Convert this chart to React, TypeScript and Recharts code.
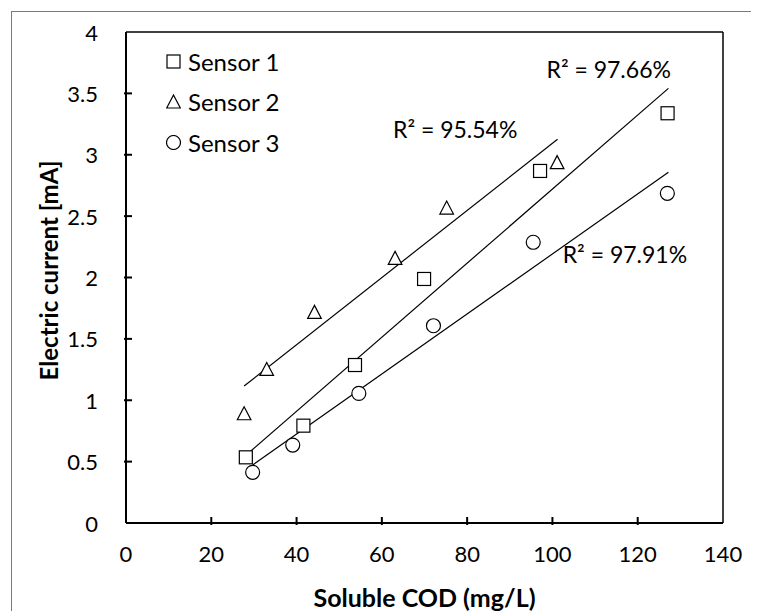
import {
  ReferenceDot,
  ReferenceLine,
  Scatter,
  ScatterChart,
  XAxis,
  YAxis,
} from "recharts";

// measured points, soluble COD (mg/L) vs current (mA)
const sensor1 = [
  { x: 28.1, y: 0.535 },
  { x: 41.6, y: 0.793 },
  { x: 53.7, y: 1.287 },
  { x: 69.9, y: 1.988 },
  { x: 97.1, y: 2.868 },
  { x: 127.0, y: 3.338 },
];
const sensor2 = [
  { x: 27.7, y: 0.894 },
  { x: 33.0, y: 1.255 },
  { x: 44.2, y: 1.72 },
  { x: 63.1, y: 2.16 },
  { x: 75.2, y: 2.57 },
  { x: 101.1, y: 2.94 },
];
const sensor3 = [
  { x: 29.7, y: 0.413 },
  { x: 39.1, y: 0.635 },
  { x: 54.6, y: 1.056 },
  { x: 72.1, y: 1.607 },
  { x: 95.5, y: 2.287 },
  { x: 126.95, y: 2.686 },
];

// linear trend endpoints as drawn
const trend1 = [
  { x: 28, y: 0.548 },
  { x: 127.2, y: 3.541 },
];
const trend2 = [
  { x: 27.7, y: 1.116 },
  { x: 101.2, y: 3.126 },
];
const trend3 = [
  { x: 29.7, y: 0.4725 },
  { x: 127.2, y: 2.857 },
];

const r2Labels = ["R² = 97.66%", "R² = 95.54%", "R² = 97.91%"];
const r2Anchors = [
  { x: 113.2, y: 3.69 },
  { x: 77.2, y: 3.2 },
  { x: 117.0, y: 2.183 },
];

const xTicks = [0, 20, 40, 60, 80, 100, 120, 140];
const yTicks = [0, 0.5, 1, 1.5, 2, 2.5, 3, 3.5, 4];
const seriesNames = ["Sensor 1", "Sensor 2", "Sensor 3"];

const FONT = "Lato, 'Open Sans', sans-serif";

type MarkProps = { cx?: number; cy?: number };

const Square = ({ cx = 0, cy = 0 }: MarkProps) => (
  <rect x={cx - 6.5} y={cy - 6.5} width={13} height={13} fill="#fff" stroke="#000" strokeWidth={1.2} />
);
const Triangle = ({ cx = 0, cy = 0 }: MarkProps) => (
  <polygon
    points={`${cx},${cy - 6.5} ${cx + 6.8},${cy + 6.5} ${cx - 6.8},${cy + 6.5}`}
    fill="#fff"
    stroke="#000"
    strokeWidth={1.2}
  />
);
const Circle = ({ cx = 0, cy = 0 }: MarkProps) => (
  <circle cx={cx} cy={cy} r={7} fill="#fff" stroke="#000" strokeWidth={1.2} />
);

const marks = [Square, Triangle, Circle];

function XTick({ x, y, payload }: any) {
  const edge = payload.value === 0 || payload.value === 140;
  return (
    <g>
      {!edge && <line x1={x} x2={x} y1={y} y2={y - 8} stroke="#000" strokeWidth={2} />}
      <text x={x} y={y + 28} textAnchor="middle" dominantBaseline="central" fontSize={22} fill="#000" fontFamily={FONT}>
        {payload.value}
      </text>
    </g>
  );
}

function YTick({ x, y, payload }: any) {
  const edge = payload.value === 0 || payload.value === 4;
  return (
    <g>
      {!edge && <line x1={x} x2={x + 8} y1={y} y2={y} stroke="#000" strokeWidth={2} />}
      <text x={x - 26} y={y} textAnchor="end" dominantBaseline="central" fontSize={22} fill="#000" fontFamily={FONT}>
        {payload.value}
      </text>
    </g>
  );
}

function LegendBox() {
  return (
    <div
      style={{
        position: "absolute",
        left: 158,
        top: 33,
        fontFamily: FONT,
        fontSize: 24,
        color: "#000",
      }}
    >
      {seriesNames.map((name, i) => {
        const Mark = marks[i];
        return (
          <div key={name} style={{ display: "flex", alignItems: "center", height: 40.5 }}>
            <svg width={15} height={15} style={{ marginRight: 7 }}>
              <Mark cx={7.5} cy={7.5} />
            </svg>
            <span>{name}</span>
          </div>
        );
      })}
    </div>
  );
}

export default function App() {
  const sets = [sensor1, sensor2, sensor3];
  const trends = [trend1, trend2, trend3];
  return (
    <div style={{ position: "relative", width: 751, height: 603, overflow: "hidden", background: "#fff" }}>
      <div
        style={{
          position: "absolute",
          left: 3,
          top: 3,
          width: 800,
          height: 700,
          border: "1px solid #7a7a7a",
        }}
      />
      <ScatterChart
        width={751}
        height={603}
        margin={{ top: 24, right: 36, bottom: 28, left: 58 }}
        style={{ position: "absolute", left: 0, top: 0, fontFamily: FONT }}
      >
        <XAxis
          type="number"
          dataKey="x"
          domain={[0, 140]}
          ticks={xTicks}
          interval={0}
          height={60}
          tickSize={0}
          tickLine={false}
          axisLine={{ stroke: "#000", strokeWidth: 2 }}
          tick={<XTick />}
          label={{
            content: ({ viewBox }: any) => (
              <text
                x={viewBox.x + viewBox.width / 2}
                y={viewBox.y + 74}
                textAnchor="middle"
                dominantBaseline="central"
                fontSize={25}
                fontWeight={700}
                fill="#000"
                fontFamily={FONT}
              >
                Soluble COD (mg/L)
              </text>
            ),
          }}
        />
        <YAxis
          type="number"
          dataKey="y"
          domain={[0, 4]}
          ticks={yTicks}
          interval={0}
          width={60}
          tickSize={0}
          tickLine={false}
          axisLine={{ stroke: "#000", strokeWidth: 2 }}
          tick={<YTick />}
          label={{
            content: ({ viewBox }: any) => {
              const cx = 40;
              const cy = viewBox.y + viewBox.height / 2 - 7;
              return (
                <text
                  x={cx}
                  y={cy}
                  transform={`rotate(-90 ${cx} ${cy})`}
                  textAnchor="middle"
                  dominantBaseline="central"
                  fontSize={24}
                  fontWeight={700}
                  fill="#000"
                  fontFamily={FONT}
                >
                  Electric current [mA]
                </text>
              );
            },
          }}
        />
        {/* plot frame, top and right */}
        <ReferenceLine y={4} stroke="#000" strokeWidth={1.5} ifOverflow="visible" />
        <ReferenceLine x={140} stroke="#000" strokeWidth={1.5} ifOverflow="visible" />
        {trends.map((t, i) => (
          <ReferenceLine
            key={"t" + i}
            segment={[t[0], t[1]]}
            stroke="#000"
            strokeWidth={1.2}
            ifOverflow="visible"
          />
        ))}
        {sets.map((d, i) => {
          const Mark = marks[i];
          return (
            <Scatter
              key={seriesNames[i]}
              name={seriesNames[i]}
              data={d}
              isAnimationActive={false}
              shape={(p: any) => <Mark cx={p.cx} cy={p.cy} />}
            />
          );
        })}
        {r2Anchors.map((a, i) => (
          <ReferenceDot
            key={"r" + i}
            x={a.x}
            y={a.y}
            r={0}
            fill="none"
            stroke="none"
            ifOverflow="visible"
            label={{
              value: r2Labels[i],
              position: "center",
              fontSize: 23,
              fill: "#000",
              fontFamily: FONT,
            }}
          />
        ))}
      </ScatterChart>
      <LegendBox />
    </div>
  );
}
